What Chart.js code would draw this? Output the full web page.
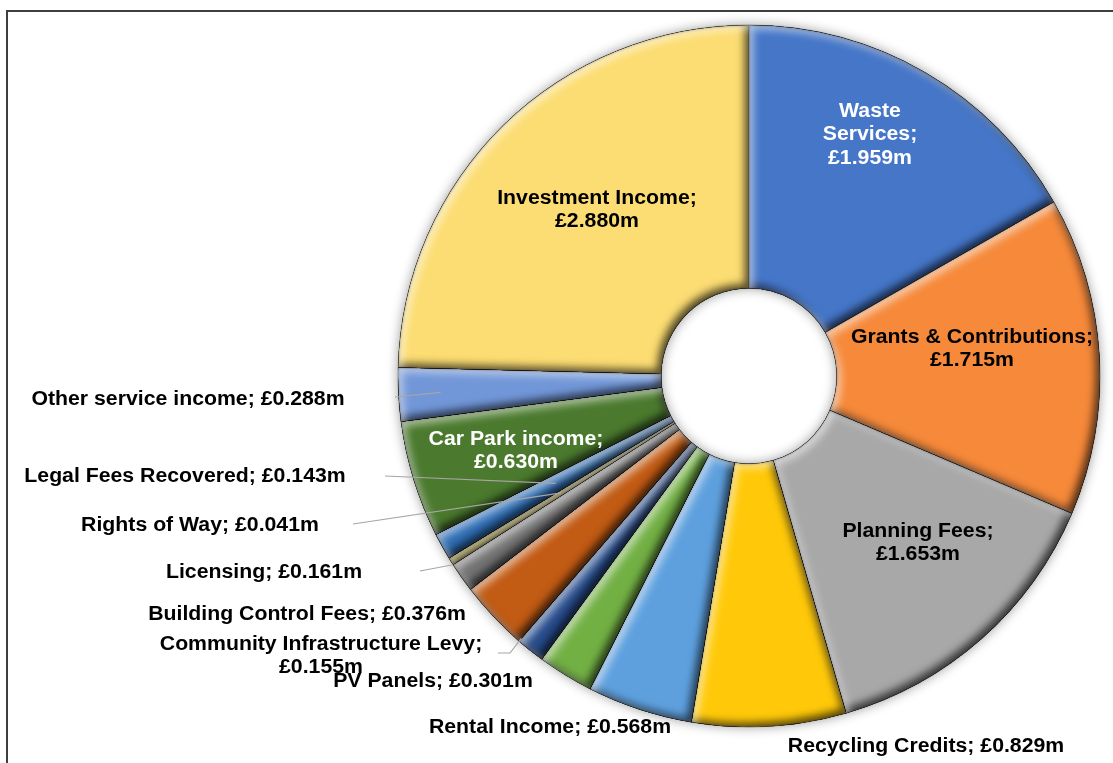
<!DOCTYPE html>
<html><head><meta charset="utf-8">
<script src="https://cdn.jsdelivr.net/npm/chart.js@4.4.0/dist/chart.umd.min.js"></script>
<style>
html,body{margin:0;padding:0;background:#fff;overflow:hidden;}
#frame{position:absolute;left:6px;top:10px;width:1200px;height:900px;border:2px solid #3f3f3f;box-sizing:border-box;}
#c{position:absolute;left:0;top:0;}
</style></head><body>
<div id="frame"></div>
<canvas id="c" width="1113" height="763"></canvas>
<script>
// ---- data ----
const categories = [
  "Waste Services", "Grants & Contributions", "Planning Fees", "Recycling Credits",
  "Rental Income", "PV Panels", "Community Infrastructure Levy", "Building Control Fees",
  "Licensing", "Rights of Way", "Legal Fees Recovered", "Car Park income",
  "Other service income", "Investment Income"
];
const values = [1.959, 1.715, 1.653, 0.829, 0.568, 0.301, 0.155, 0.376, 0.161, 0.041, 0.143, 0.630, 0.288, 2.880];
const sliceColors = [
  "#4576C8", "#F6893A", "#A8A8A8", "#FFC90A", "#5EA0DE", "#72B044", "#274C8C", "#C25B14",
  "#737373", "#A08A00", "#2F6EB5", "#4B7A2E", "#7297D8", "#FCDD73"
];

// ---- label layout (offsets from the doughnut centre) ----
// wrap: 'one' = single line, 'two' = name / value, 'words' = every word on own line
const labelLayout = [
  {dx: 121, dy: -241, wrap: 'words', color: '#ffffff'},
  {dx: 223, dy: -27, wrap: 'two', color: '#000000'},
  {dx: 169, dy: 167, wrap: 'two', color: '#000000'},
  {dx: 177, dy: 371, wrap: 'one', color: '#000000'},
  {dx: -199, dy: 352, wrap: 'one', color: '#000000'},
  {dx: -316, dy: 306, wrap: 'one', color: '#000000'},
  {dx: -428, dy: 280, wrap: 'two', color: '#000000', leader: {pts: [[-251, 277], [-239, 277]], t: 1, k: 0.99}},
  {dx: -442, dy: 239, wrap: 'one', color: '#000000'},
  {dx: -485, dy: 197, wrap: 'one', color: '#000000', leader: {pts: [[-329, 195]], t: 1, k: 1.0}},
  {dx: -549, dy: 150, wrap: 'one', color: '#000000', leader: {pts: [[-396, 148]], t: 0.5, k: 0.63}},
  {dx: -564, dy: 101, wrap: 'one', color: '#000000', leader: {pts: [[-364, 100]], t: 0.5, k: 0.63}},
  {dx: -233, dy: 75, wrap: 'two', color: '#ffffff'},
  {dx: -561, dy: 24, wrap: 'one', color: '#000000', leader: {pts: [[-354, 21]], t: 0.5, k: 0.88}},
  {dx: -152, dy: -166, wrap: 'two', color: '#000000'}
];

function labelLines(i, wrap) {
  const name = categories[i];
  const val = '£' + values[i].toFixed(3) + 'm';
  if (wrap === 'one') return [name + '; ' + val];
  if (wrap === 'two') return [name + ';', val];
  const words = (name + ';').split(' ');
  return words.concat([val]);
}

function addArc(ctx, a) {
  ctx.moveTo(a.x + Math.cos(a.startAngle) * a.outerRadius, a.y + Math.sin(a.startAngle) * a.outerRadius);
  ctx.arc(a.x, a.y, a.outerRadius, a.startAngle, a.endAngle);
  ctx.arc(a.x, a.y, a.innerRadius, a.endAngle, a.startAngle, true);
  ctx.closePath();
}

const ringShadow = {
  id: 'ringShadow',
  beforeDatasetsDraw(chart) {
    const meta = chart.getDatasetMeta(0);
    if (!meta.data.length) return;
    const a = meta.data[0].getProps(['x', 'y', 'innerRadius', 'outerRadius'], true);
    const ctx = chart.ctx;
    ctx.save();
    ctx.shadowColor = 'rgba(0,0,0,0.4)';
    ctx.shadowBlur = 12;
    ctx.fillStyle = '#ffffff';
    ctx.beginPath();
    ctx.arc(a.x, a.y, a.outerRadius, 0, Math.PI * 2);
    ctx.moveTo(a.x + a.innerRadius, a.y);
    ctx.arc(a.x, a.y, a.innerRadius, Math.PI * 2, 0, true);
    ctx.closePath();
    ctx.fill('evenodd');
    ctx.restore();
  }
};

const bevel = {
  id: 'bevel',
  afterDatasetsDraw(chart) {
    const ctx = chart.ctx;
    const meta = chart.getDatasetMeta(0);
    meta.data.forEach((el) => {
      const a = el.getProps(['x', 'y', 'startAngle', 'endAngle', 'innerRadius', 'outerRadius'], true);
      const passes = [
        {c: 'rgba(0,0,0,0.7)', ox: -4, oy: -4, b: 9},
        {c: 'rgba(255,255,255,0.6)', ox: 4, oy: 4, b: 9},
        {c: 'rgba(0,0,0,0.35)', ox: 0, oy: 0, b: 3}
      ];
      passes.forEach(p => {
        ctx.save();
        ctx.beginPath();
        addArc(ctx, a);
        ctx.clip();
        ctx.shadowColor = p.c;
        ctx.shadowOffsetX = p.ox;
        ctx.shadowOffsetY = p.oy;
        ctx.shadowBlur = p.b;
        ctx.fillStyle = '#000';
        ctx.beginPath();
        ctx.rect(-3000, -3000, 8000, 8000);
        addArc(ctx, a);
        ctx.fill('evenodd');
        ctx.restore();
      });
    });
  }
};

const sliceLabels = {
  id: 'sliceLabels',
  afterDatasetsDraw(chart) {
    const ctx = chart.ctx;
    const meta = chart.getDatasetMeta(0);
    meta.data.forEach((el, i) => {
      const a = el.getProps(['x', 'y', 'startAngle', 'endAngle', 'innerRadius', 'outerRadius'], true);
      const L = labelLayout[i];
      if (L.leader) {
        const ang = a.startAngle + (a.endAngle - a.startAngle) * L.leader.t;
        const r = a.outerRadius * L.leader.k;
        ctx.save();
        ctx.strokeStyle = '#A6A6A6';
        ctx.lineWidth = 1.2;
        ctx.beginPath();
        L.leader.pts.forEach((p, j) => {
          if (j === 0) ctx.moveTo(a.x + p[0], a.y + p[1]); else ctx.lineTo(a.x + p[0], a.y + p[1]);
        });
        ctx.lineTo(a.x + Math.cos(ang) * r, a.y + Math.sin(ang) * r);
        ctx.stroke();
        ctx.restore();
      }
      const lines = labelLines(i, L.wrap);
      const lh = 23.5;
      const y0 = a.y + L.dy - (lines.length - 1) * lh / 2;
      lines.forEach((t, j) => {
        ctx.save();
        ctx.font = 'bold 19.5px "Liberation Sans", Arial, sans-serif';
        ctx.textAlign = 'center';
        ctx.textBaseline = 'middle';
        ctx.fillStyle = L.color;
        ctx.translate(a.x + L.dx, y0 + j * lh);
        ctx.scale(1.09, 1);
        ctx.fillText(t, 0, 0);
        ctx.restore();
      });
    });
  }
};

new Chart(document.getElementById('c'), {
  type: 'doughnut',
  data: {
    labels: categories,
    datasets: [{
      data: values,
      backgroundColor: sliceColors,
      borderColor: 'rgba(0,0,0,0.3)',
      borderWidth: 1,
      hoverOffset: 0,
      offset: 0
    }]
  },
  options: {
    responsive: false,
    animation: false,
    cutout: '25%',
    radius: 351,
    rotation: 0,
    layout: {padding: {left: 398, right: 13, top: 25, bottom: 36}},
    plugins: {legend: {display: false}, tooltip: {enabled: false}, title: {display: false}}
  },
  plugins: [ringShadow, bevel, sliceLabels]
});
</script>
</body></html>
